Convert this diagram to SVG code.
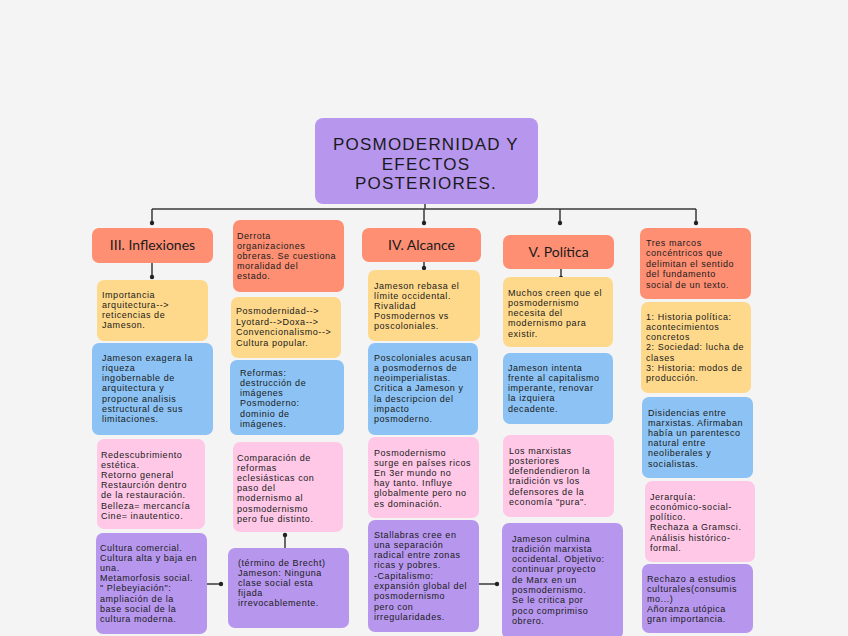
<svg xmlns="http://www.w3.org/2000/svg" width="848" height="636" viewBox="0 0 848 636">
<style>
.bg{fill:#f4f4f4}
.r{fill:#ff8f73}
.y{fill:#ffd98b}
.b{fill:#8cc3f4}
.p{fill:#ffc8e7}
.v{fill:#b797ee}
text{font-family:Lato,"Open Sans","Liberation Sans",sans-serif;fill:#1a1a1a}
.t{font-family:"Liberation Sans",Arial,sans-serif;font-size:9px;letter-spacing:0.55px}
.h{font-size:14px;text-anchor:middle}
.ti{font-family:"Liberation Sans",Arial,sans-serif;font-size:17px;text-anchor:middle;letter-spacing:1.2px}
.ln{stroke:#3a3a3a;stroke-width:1.5;fill:none}
.dot{fill:#222}
</style>
<rect class="bg" x="0" y="0" width="848" height="636"/>
<g id="connectors">
<path class="ln" d="M425,204V209M152,209H696M152,209V223M424,209V223M560,209V223M696,209V223"/>
<circle class="dot" cx="152" cy="223" r="2.2"/><circle class="dot" cx="424" cy="223" r="2.2"/><circle class="dot" cx="560" cy="223" r="2.2"/><circle class="dot" cx="696" cy="223" r="2.2"/>
<path class="ln" d="M152,263V277M424,262V268M561,269V278"/>
<circle class="dot" cx="152" cy="277" r="2.2"/><circle class="dot" cx="424" cy="268" r="2.2"/><circle class="dot" cx="561" cy="278" r="2.2"/>
<path class="ln" d="M207,584H222M479,584H497M285,535V548"/>
<circle class="dot" cx="221" cy="584" r="2.2"/><circle class="dot" cx="497" cy="584" r="2.2"/><circle class="dot" cx="285" cy="535" r="2.2"/>
</g>
<g id="title"><rect class="v" x="315" y="118" width="223" height="86" rx="8"/>
<text class="ti" x="426" y="150">POSMODERNIDAD Y</text><text class="ti" x="426" y="169.5">EFECTOS</text><text class="ti" x="426" y="189">POSTERIORES.</text></g>

<g id="c1h"><rect class="r" x="92" y="228" width="121" height="35" rx="7"/><text class="h" x="152.5" y="250">III. Inflexiones</text></g>
<g id="c1y"><rect class="y" x="97" y="280" width="111" height="61" rx="7"/><text class="t" x="102" y="297.5">Importancia</text><text class="t" x="102" y="307.7">arquitectura--&gt;</text><text class="t" x="102" y="317.9">reticencias de</text><text class="t" x="102" y="328.1">Jameson.</text></g>
<g id="c1b"><rect class="b" x="92" y="343" width="121" height="92" rx="7"/><text class="t" x="102" y="360.5">Jameson exagera la</text><text class="t" x="102" y="370.8">riqueza</text><text class="t" x="102" y="381.1">ingobernable de</text><text class="t" x="102" y="391.4">arquitectura y</text><text class="t" x="102" y="401.7">propone analisis</text><text class="t" x="102" y="412">estructural de sus</text><text class="t" x="102" y="422.3">limitaciones.</text></g>
<g id="c1p"><rect class="p" x="97" y="439" width="108" height="90" rx="7"/><text class="t" x="101" y="457.5">Redescubrimiento</text><text class="t" x="101" y="467.7">estética.</text><text class="t" x="101" y="477.9">Retorno general</text><text class="t" x="101" y="488.1">Restaurción dentro</text><text class="t" x="101" y="498.3">de la restauración.</text><text class="t" x="101" y="508.5">Belleza= mercancía</text><text class="t" x="101" y="518.7">Cine= inautentico.</text></g>
<g id="c1v"><rect class="v" x="96" y="533" width="111" height="101" rx="7"/><text class="t" x="100" y="550.5">Cultura comercial.</text><text class="t" x="100" y="560.7">Cultura alta y baja en</text><text class="t" x="100" y="570.9">una.</text><text class="t" x="100" y="581.1">Metamorfosis social.</text><text class="t" x="100" y="591.3">" Plebeyiación":</text><text class="t" x="100" y="601.5">ampliación de la</text><text class="t" x="100" y="611.7">base social de la</text><text class="t" x="100" y="621.9">cultura moderna.</text></g>

<g id="c2r"><rect class="r" x="233" y="220" width="111" height="72" rx="7"/><text class="t" x="237" y="238.5">Derrota</text><text class="t" x="237" y="248.7">organizaciones</text><text class="t" x="237" y="258.9">obreras. Se cuestiona</text><text class="t" x="237" y="269.1">moralidad del</text><text class="t" x="237" y="279.3">estado.</text></g>
<g id="c2y"><rect class="y" x="231" y="297" width="110" height="61" rx="7"/><text class="t" x="236" y="314">Posmodernidad--&gt;</text><text class="t" x="236" y="324.5">Lyotard--&gt;Doxa--&gt;</text><text class="t" x="236" y="335">Convencionalismo--&gt;</text><text class="t" x="236" y="345.5">Cultura popular.</text></g>
<g id="c2b"><rect class="b" x="230" y="360" width="114" height="75" rx="7"/><text class="t" x="240" y="375.5">Reformas:</text><text class="t" x="240" y="385.8">destrucción de</text><text class="t" x="240" y="396.1">imágenes</text><text class="t" x="240" y="406.4">Posmoderno:</text><text class="t" x="240" y="416.7">dominio de</text><text class="t" x="240" y="427">imágenes.</text></g>
<g id="c2p"><rect class="p" x="233" y="442" width="110" height="90" rx="7"/><text class="t" x="237" y="460.5">Comparación de</text><text class="t" x="237" y="470.7">reformas</text><text class="t" x="237" y="480.9">eclesiásticas con</text><text class="t" x="237" y="491.1">paso del</text><text class="t" x="237" y="501.3">modernismo al</text><text class="t" x="237" y="511.5">posmodernismo</text><text class="t" x="237" y="521.7">pero fue distinto.</text></g>
<g id="c2v"><rect class="v" x="228" y="548" width="121" height="80" rx="7"/><text class="t" x="238" y="565.5">(término de Brecht)</text><text class="t" x="238" y="575.7">Jameson: Ninguna</text><text class="t" x="238" y="585.9">clase social esta</text><text class="t" x="238" y="596.1">fijada</text><text class="t" x="238" y="606.3">irrevocablemente.</text></g>

<g id="c3h"><rect class="r" x="362" y="228" width="119" height="34" rx="7"/><text class="h" x="421.5" y="250">IV. Alcance</text></g>
<g id="c3y"><rect class="y" x="368" y="270" width="112" height="71" rx="7"/><text class="t" x="374" y="288.5">Jameson rebasa el</text><text class="t" x="374" y="298.7">límite occidental.</text><text class="t" x="374" y="308.9">Rivalidad</text><text class="t" x="374" y="319.1">Posmodernos vs</text><text class="t" x="374" y="329.3">poscoloniales.</text></g>
<g id="c3b"><rect class="b" x="368" y="343" width="110" height="92" rx="7"/><text class="t" x="374" y="360.5">Poscoloniales acusan</text><text class="t" x="374" y="370.8">a posmodernos de</text><text class="t" x="374" y="381.1">neoimperialistas.</text><text class="t" x="374" y="391.4">Critica a Jameson y</text><text class="t" x="374" y="401.7">la descripcion del</text><text class="t" x="374" y="412">impacto</text><text class="t" x="374" y="422.3">posmoderno.</text></g>
<g id="c3p"><rect class="p" x="368" y="437" width="111" height="81" rx="7"/><text class="t" x="374" y="455.5">Posmodernismo</text><text class="t" x="374" y="465.7">surge en países ricos</text><text class="t" x="374" y="475.9">En 3er mundo no</text><text class="t" x="374" y="486.1">hay tanto. Influye</text><text class="t" x="374" y="496.3">globalmente pero no</text><text class="t" x="374" y="506.5">es dominación.</text></g>
<g id="c3v"><rect class="v" x="368" y="520" width="111" height="112" rx="7"/><text class="t" x="374" y="537.5">Stallabras cree en</text><text class="t" x="374" y="547.8">una separación</text><text class="t" x="374" y="558.1">radical entre zonas</text><text class="t" x="374" y="568.4">ricas y pobres.</text><text class="t" x="374" y="578.7">-Capitalismo:</text><text class="t" x="374" y="589">expansión global del</text><text class="t" x="374" y="599.3">posmodernismo</text><text class="t" x="374" y="609.6">pero con</text><text class="t" x="374" y="619.9">irregularidades.</text></g>

<g id="c4h"><rect class="r" x="503" y="235" width="111" height="34" rx="7"/><text class="h" x="558.5" y="257">V. Política</text></g>
<g id="c4y"><rect class="y" x="503" y="277" width="110" height="70" rx="7"/><text class="t" x="508" y="295.5">Muchos creen que el</text><text class="t" x="508" y="305.8">posmodernismo</text><text class="t" x="508" y="316.1">necesita del</text><text class="t" x="508" y="326.4">modernismo para</text><text class="t" x="508" y="336.7">existir.</text></g>
<g id="c4b"><rect class="b" x="503" y="353" width="110" height="71" rx="7"/><text class="t" x="508" y="370.5">Jameson intenta</text><text class="t" x="508" y="380.8">frente al capitalismo</text><text class="t" x="508" y="391.1">imperante, renovar</text><text class="t" x="508" y="401.4">la izquiera</text><text class="t" x="508" y="411.7">decadente.</text></g>
<g id="c4p"><rect class="p" x="503" y="435" width="111" height="82" rx="7"/><text class="t" x="509" y="453.5">Los marxistas</text><text class="t" x="509" y="463.8">posteriores</text><text class="t" x="509" y="474.1">defendendieron la</text><text class="t" x="509" y="484.4">traidición vs los</text><text class="t" x="509" y="494.7">defensores de la</text><text class="t" x="509" y="505">economía "pura".</text></g>
<g id="c4v"><rect class="v" x="502" y="523" width="121" height="116" rx="7"/><text class="t" x="512" y="541.5">Jameson culmina</text><text class="t" x="512" y="551.8">tradición marxista</text><text class="t" x="512" y="562.1">occidental. Objetivo:</text><text class="t" x="512" y="572.4">continuar proyecto</text><text class="t" x="512" y="582.7">de Marx en un</text><text class="t" x="512" y="593">posmodernismo.</text><text class="t" x="512" y="603.3">Se le critica  por</text><text class="t" x="512" y="613.6">poco comprimiso</text><text class="t" x="512" y="623.9">obrero.</text></g>

<g id="c5r"><rect class="r" x="640" y="228" width="111" height="71" rx="7"/><text class="t" x="646" y="245.5">Tres marcos</text><text class="t" x="646" y="256">concéntricos que</text><text class="t" x="646" y="266.5">delimitan el sentido</text><text class="t" x="646" y="277">del fundamento</text><text class="t" x="646" y="287.5">social de un texto.</text></g>
<g id="c5y"><rect class="y" x="641" y="302" width="110" height="91" rx="7"/><text class="t" x="646" y="319.5">1: Historia política:</text><text class="t" x="646" y="329.8">acontecimientos</text><text class="t" x="646" y="340.1">concretos</text><text class="t" x="646" y="350.4">2: Sociedad: lucha de</text><text class="t" x="646" y="360.7">clases</text><text class="t" x="646" y="371">3: Historia: modos de</text><text class="t" x="646" y="381.3">producción.</text></g>
<g id="c5b"><rect class="b" x="642" y="397" width="111" height="81" rx="7"/><text class="t" x="648" y="415.5">Disidencias entre</text><text class="t" x="648" y="425.7">marxistas. Afirmaban</text><text class="t" x="648" y="435.9">había  un parentesco</text><text class="t" x="648" y="446.1">natural entre</text><text class="t" x="648" y="456.3">neoliberales y</text><text class="t" x="648" y="466.5">socialistas.</text></g>
<g id="c5p"><rect class="p" x="645" y="481" width="110" height="81" rx="7"/><text class="t" x="650" y="499.5">Jerarquía:</text><text class="t" x="650" y="509.8">económico-social-</text><text class="t" x="650" y="520.1">político.</text><text class="t" x="650" y="530.4">Rechaza a Gramsci.</text><text class="t" x="650" y="540.7">Análisis histórico-</text><text class="t" x="650" y="551">formal.</text></g>
<g id="c5v"><rect class="v" x="642" y="564" width="111" height="69" rx="7"/><text class="t" x="647" y="581.5">Rechazo a estudios</text><text class="t" x="647" y="591.7">culturales(consumis</text><text class="t" x="647" y="601.9">mo...)</text><text class="t" x="647" y="612.1">Añoranza utópica</text><text class="t" x="647" y="622.3">gran importancia.</text></g>
</svg>
